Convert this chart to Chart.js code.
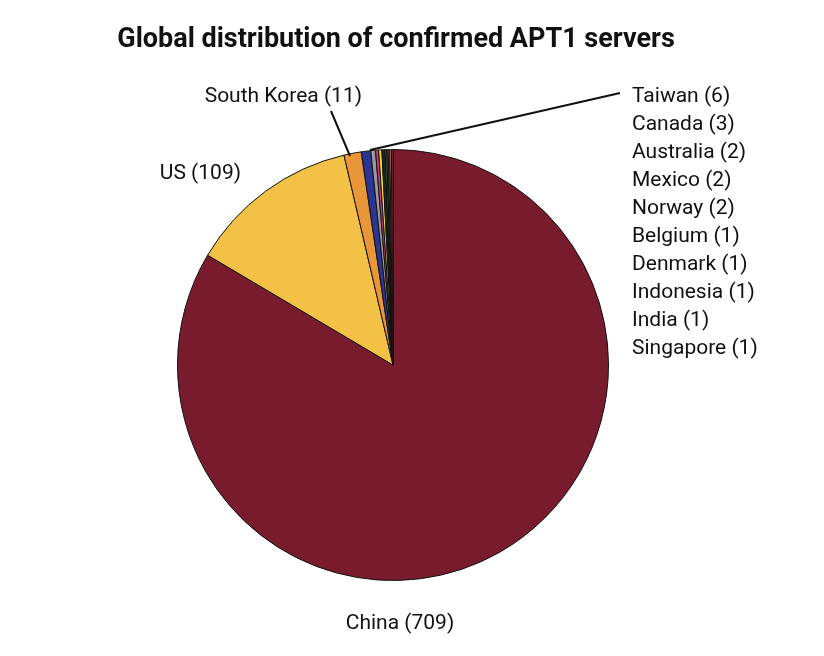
<!DOCTYPE html>
<html><head><meta charset="utf-8">
<script src="https://cdn.jsdelivr.net/npm/chart.js@4/dist/chart.umd.min.js"></script>
<style>html,body{margin:0;background:#fff}#w{width:824px;height:656px}</style>
</head><body><div id="w"><canvas id="c"></canvas></div>
<script>
const countries = ["China","US","South Korea","Taiwan","Canada","Australia","Mexico","Norway","Belgium","Denmark","Indonesia","India","Singapore"];
const servers = [709,109,11,6,3,2,2,2,1,1,1,1,1];
const colors = ["#771b2d","#f3c145","#e89638","#2b3594","#9a9a9a","#d2348c","#f0e030","#222222","#3c9a44","#1e6a2e","#ee3d2d","#f2a0b0","#c0392b"];
const title = "Global distribution of confirmed APT1 servers";
const FONT = 'Roboto,"Liberation Sans",sans-serif';
const labelsPlugin = {
  id:'lbl',
  afterDraw(chart){
    const ctx=chart.ctx; ctx.save();
    ctx.fillStyle='#111'; ctx.font='bold 27px '+FONT; ctx.textAlign='center'; ctx.textBaseline='middle';
    ctx.fillText(title,396,40);
    ctx.font='21px '+FONT;
    const lab=i=>countries[i]+' ('+servers[i]+')';
    ctx.fillText(lab(0),400,624);
    ctx.textAlign='right'; ctx.fillText(lab(1),241,174);
    ctx.textAlign='right'; ctx.fillText(lab(2),362,97);
    ctx.textAlign='left';
    for(let i=3;i<countries.length;i++) ctx.fillText(lab(i),632,97+(i-3)*28);
    ctx.strokeStyle='#111'; ctx.lineWidth=2;
    ctx.beginPath(); ctx.moveTo(331,111); ctx.lineTo(350,156);
    ctx.moveTo(620,93); ctx.lineTo(370,150); ctx.stroke();
    ctx.restore();
  }
};
new Chart(document.getElementById('c'),{
  type:'pie',
  data:{labels:countries,datasets:[{data:servers,backgroundColor:colors,borderColor:'#111',borderWidth:1}]},
  options:{responsive:true,maintainAspectRatio:false,animation:false,
    layout:{padding:{left:177,right:215,top:149,bottom:75}},
    plugins:{legend:{display:false},tooltip:{enabled:false}}},
  plugins:[labelsPlugin]
});
</script></body></html>
